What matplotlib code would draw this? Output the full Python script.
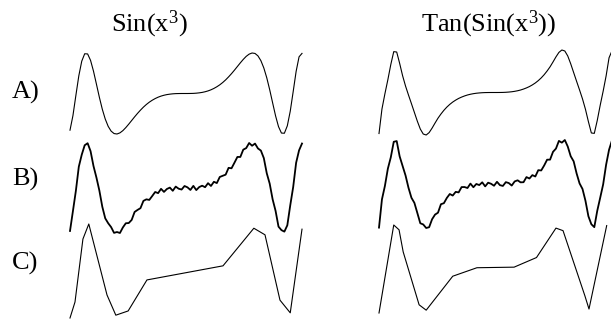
import matplotlib
matplotlib.use('Agg')
import matplotlib.pyplot as plt
import numpy as np

plt.rcParams['font.family'] = 'Liberation Serif'
plt.rcParams['mathtext.fontset'] = 'custom'
plt.rcParams['mathtext.rm'] = 'Liberation Serif'
plt.rcParams['mathtext.it'] = 'Liberation Serif:italic'

# grille en x commune aux lignes A et B
x = [-1.95, -1.90, -1.85, -1.80, -1.75, -1.70, -1.65, -1.60, -1.55, -1.50,
     -1.45, -1.40, -1.35, -1.30, -1.25, -1.20, -1.15, -1.10, -1.05, -1.00,
     -0.95, -0.90, -0.85, -0.80, -0.75, -0.70, -0.65, -0.60, -0.55, -0.50,
     -0.45, -0.40, -0.35, -0.30, -0.25, -0.20, -0.15, -0.10, -0.05, 0.00,
     0.05, 0.10, 0.15, 0.20, 0.25, 0.30, 0.35, 0.40, 0.45, 0.50,
     0.55, 0.60, 0.65, 0.70, 0.75, 0.80, 0.85, 0.90, 0.95, 1.00,
     1.05, 1.10, 1.15, 1.20, 1.25, 1.30, 1.35, 1.40, 1.45, 1.50,
     1.55, 1.60, 1.65, 1.70, 1.75, 1.80, 1.85, 1.90, 1.95, 2.00]

# A) courbe lisse, colonne gauche : Sin(x^3)
sin_a = [-0.905, -0.545, -0.048, 0.436, 0.797, 0.980, 0.976, 0.817, 0.551, 0.231,
         -0.093, -0.388, -0.630, -0.810, -0.928, -0.988, -0.999, -0.971, -0.916, -0.841,
         -0.756, -0.666, -0.576, -0.490, -0.410, -0.336, -0.271, -0.214, -0.166, -0.125,
         -0.091, -0.064, -0.043, -0.027, -0.016, -0.008, -0.003, -0.001, 0.000, 0.000,
         0.000, 0.001, 0.003, 0.008, 0.016, 0.027, 0.043, 0.064, 0.091, 0.125,
         0.166, 0.214, 0.271, 0.336, 0.410, 0.490, 0.576, 0.666, 0.756, 0.841,
         0.916, 0.971, 0.999, 0.988, 0.928, 0.810, 0.630, 0.388, 0.093, -0.231,
         -0.551, -0.817, -0.976, -0.980, -0.797, -0.436, 0.048, 0.545, 0.905, 0.989]

# A) colonne droite : Tan(Sin(x^3))
tan_a = [-1.500, -0.605, -0.048, 0.466, 1.022, 1.494, 1.480, 1.066, 0.614, 0.235,
         -0.093, -0.408, -0.729, -1.050, -1.335, -1.518, -1.554, -1.466, -1.302, -1.117,
         -0.939, -0.787, -0.651, -0.534, -0.434, -0.349, -0.278, -0.217, -0.168, -0.126,
         -0.091, -0.064, -0.043, -0.027, -0.016, -0.008, -0.003, -0.001, 0.000, 0.000,
         0.000, 0.001, 0.003, 0.008, 0.016, 0.027, 0.043, 0.064, 0.091, 0.126,
         0.168, 0.217, 0.278, 0.349, 0.434, 0.534, 0.651, 0.787, 0.939, 1.117,
         1.302, 1.466, 1.554, 1.518, 1.335, 1.050, 0.729, 0.408, 0.093, -0.235,
         -0.614, -1.066, -1.480, -1.494, -1.022, -0.466, 0.048, 0.605, 1.270, 1.525]

# B) bruit (écarts autour de la courbe A)
bruit_g = [-0.06, 0.03, -0.01, 0.05, -0.04, -0.01, 0.04, 0.02, -0.05, 0.01,
           0.04, -0.03, -0.05, 0.02, 0.05, -0.02, 0.01, -0.04, 0.03, 0.05,
           -0.03, -0.05, 0.04, 0.00, -0.04, 0.05, 0.02, -0.05, -0.01, 0.04,
           -0.02, 0.05, -0.04, 0.01, 0.03, -0.05, 0.04, -0.01, -0.03, 0.05,
           0.02, -0.04, 0.05, -0.05, 0.01, 0.03, -0.02, 0.05, -0.04, 0.02,
           -0.05, 0.04, 0.01, -0.03, 0.05, -0.04, 0.00, 0.04, -0.05, 0.03,
           -0.01, 0.05, -0.04, 0.02, -0.03, 0.04, 0.05, -0.05, 0.01, -0.02,
           0.04, -0.05, 0.03, 0.00, -0.04, 0.05, -0.02, 0.03, -0.05, 0.02]

bruit_d = [-0.05, 0.06, -0.02, 0.08, -0.07, 0.01, 0.05, -0.08, 0.03, 0.07,
           -0.04, -0.08, 0.06, 0.02, -0.06, 0.08, -0.01, -0.07, 0.05, 0.03,
           -0.08, 0.07, -0.03, 0.04, 0.08, -0.06, 0.00, -0.08, 0.06, 0.02,
           -0.05, 0.08, -0.07, 0.03, -0.02, 0.07, -0.08, 0.05, 0.01, -0.06,
           0.08, -0.04, -0.07, 0.06, 0.02, -0.08, 0.05, 0.07, -0.03, -0.06,
           0.08, -0.02, 0.04, -0.08, 0.06, -0.05, 0.01, 0.08, -0.07, 0.03,
           -0.04, 0.07, -0.08, 0.05, 0.00, -0.06, 0.08, -0.03, -0.07, 0.06,
           0.02, -0.08, 0.05, -0.04, 0.07, -0.02, -0.06, 0.08, -0.05, 0.03]

# C) version échantillonnée grossièrement (sommets lus sur l'image)
xc_g = [-1.95, -1.865, -1.73, -1.63, -1.32, -1.17, -0.96, -0.64, 0.655, 1.18, 1.37, 1.625, 1.80, 2.0]
yc_g = [-1.00, -0.66, 0.68, 1.00, -0.51, -0.94, -0.85, -0.19, 0.11, 0.91, 0.77, -0.62, -0.89, 0.89]

xc_d = [-1.95, -1.70, -1.61, -1.54, -1.27, -1.15, -0.70, -0.29, 0.34, 0.72, 1.05, 1.17, 1.54, 1.61, 1.91]
yc_d = [-1.56, 1.55, 1.38, 0.60, -1.27, -1.46, -0.26, 0.04, 0.06, 0.40, 1.44, 1.35, -0.95, -1.42, 1.53]

titres = ['Sin(x$^3$)', 'Tan(Sin(x$^3$))']
lignes = ['A)', 'B)', 'C)']

W, H = 611, 320
fig = plt.figure(figsize=(W / 100, H / 100), dpi=100)


def trace(x0, x1, y0, y1, xs, ys, lw):
    # axes placés en pixels (haut y0, bas y1)
    ax = fig.add_axes([x0 / W, 1 - y1 / H, (x1 - x0) / W, (y1 - y0) / H])
    ax.plot(xs, ys, color='black', lw=lw, clip_on=False)
    ax.set_xlim(-1.95, 2.0)
    ax.set_ylim(min(ys), max(ys))
    ax.axis('off')
    return ax


sin_b = np.array(sin_a) + np.array(bruit_g)
tan_b = np.array(tan_a) + np.array(bruit_d)

# colonne gauche
trace(70, 302, 53, 134, x, sin_a, 0.8)
trace(70, 302, 143, 233, x, sin_b, 1.3)
trace(70, 302, 224, 318, xc_g, yc_g, 0.8)
# colonne droite
trace(379, 612, 50, 135, x, tan_a, 0.8)
trace(379, 612, 140, 228, x, tan_b, 1.3)
trace(379, 612, 225, 313, xc_d, yc_d, 0.8)

fig.text(149 / W, 1 - 24 / H, titres[0], ha='center', va='center', fontsize=19)
fig.text(489 / W, 1 - 24 / H, titres[1], ha='center', va='center', fontsize=19)
for lab, yy in zip(lignes, [92, 179, 263]):
    fig.text(12 / W, 1 - yy / H, lab, ha='left', va='center', fontsize=19)

fig.savefig('out.png', dpi=100)
